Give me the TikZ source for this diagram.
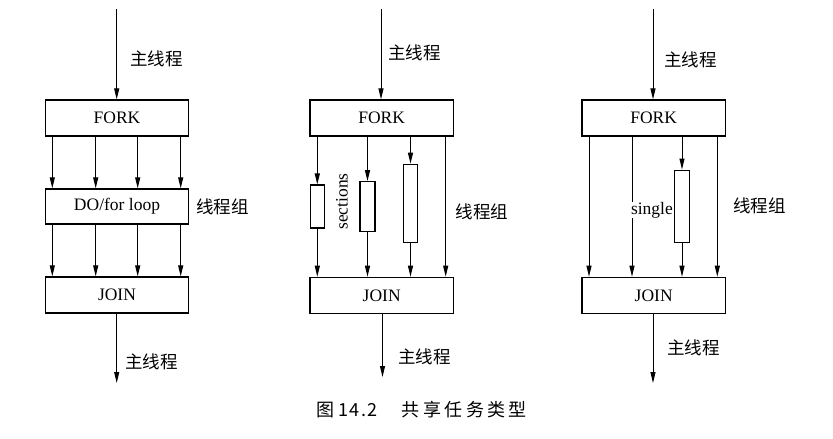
\documentclass[tikz,border=0pt]{standalone}
\usepackage{fontspec}
\setmainfont{Liberation Serif}
\newfontfamily\cjk{Noto Sans CJK SC}
\usetikzlibrary{arrows.meta}
\begin{document}
\begin{tikzpicture}[x=1pt,y=-1pt,
  box/.style={draw, line width=1.2pt, minimum height=36pt, inner sep=0pt, font=\fontsize{17.5}{20}\selectfont},
  sbox/.style={draw, line width=1.1pt, inner sep=0pt},
  flow/.style={line width=1pt, -{Triangle[length=11pt,width=5pt]}},
  lbl/.style={font=\cjk\fontsize{17.5}{20}\selectfont, inner sep=0pt, anchor=west},
  txt/.style={font=\fontsize{17.5}{20}\selectfont, inner sep=0pt},
]
\useasboundingbox (0,0) rectangle (833,439);
\fill[white] (0,0) rectangle (833,439);

% ---------- Panel 1 ----------
\node[box, minimum width=142.6pt] (fork1) at (117,118) {FORK};
\node[box, minimum width=142.6pt, minimum height=35pt] (do1) at (117,206.5) {DO/for loop};
\node[box, minimum width=142.6pt] (join1) at (117,295) {JOIN};
\coordinate (t1) at (116.7,9);
\coordinate (b1) at (116.7,383);
\draw[flow] (t1) -- (t1 |- fork1.north);
\draw[flow] (join1.south -| b1) -- (b1);
\foreach \x [count=\i] in {52.3,95.7,137.7,180.7} {
  \coordinate (p1\i) at (\x,0);
  \draw[flow] (fork1.south -| p1\i) -- (do1.north -| p1\i);
  \draw[flow] (do1.south -| p1\i) -- (join1.north -| p1\i);
}
\node[lbl] (m1a) at (130,58.5) {主线程};
\node[lbl] (m1b) at (125,362) {主线程};
\node[lbl] (g1) at (196,207) {线程组};

% ---------- Panel 2 ----------
\node[box, minimum width=143.3pt] (fork2) at (381.7,118) {FORK};
\node[box, minimum width=143.3pt] (join2) at (381.7,295.3) {JOIN};
\coordinate (t2) at (381,9);
\coordinate (b2) at (382.5,377);
\draw[flow] (t2) -- (t2 |- fork2.north);
\draw[flow] (join2.south -| b2) -- (b2);
\node[sbox, minimum width=14.3pt, minimum height=43pt] (s1) at (317.3,206.5) {};
\node[sbox, minimum width=15pt, minimum height=50pt] (s2) at (367.5,206.7) {};
\node[sbox, minimum width=14.4pt, minimum height=78pt] (s3) at (410.5,203.2) {};
\foreach \n in {s1,s2,s3} {
  \draw[flow] (fork2.south -| \n.north) -- (\n.north);
  \draw[flow] (\n.south) -- (join2.north -| \n.south);
}
\coordinate (p24) at (445.7,0);
\draw[flow] (fork2.south -| p24) -- (join2.north -| p24);
\node[txt, rotate=90] (sec) at (342,201.5) {sections};
\node[lbl] (m2a) at (388,53) {主线程};
\node[lbl] (m2b) at (398,356.7) {主线程};
\node[lbl] (g2) at (455.7,211.7) {线程组};

% ---------- Panel 3 ----------
\node[box, minimum width=143.3pt] (fork3) at (653.7,118) {FORK};
\node[box, minimum width=143.3pt] (join3) at (653.7,295.3) {JOIN};
\coordinate (t3) at (653,9);
\coordinate (b3) at (653,383);
\draw[flow] (t3) -- (t3 |- fork3.north);
\draw[flow] (join3.south -| b3) -- (b3);
\foreach \x [count=\i] in {589,632,717.3} {
  \coordinate (p3\i) at (\x,0);
  \draw[flow] (fork3.south -| p3\i) -- (join3.north -| p3\i);
}
\node[sbox, minimum width=14.6pt, minimum height=72.3pt] (sg) at (682,206.2) {};
\draw[flow] (fork3.south -| sg.north) -- (sg.north);
\draw[flow] (sg.south) -- (join3.north -| sg.south);
\node[txt, fill=white, anchor=east, inner sep=0.5pt] (single) at (673.5,210) {single};
\node[lbl] (m3a) at (664,60) {主线程};
\node[lbl] (m3b) at (667,348.3) {主线程};
\node[lbl] (g3) at (733,206) {线程组};

% ---------- Caption ----------
\node[font=\cjk\fontsize{18}{20}\selectfont, inner sep=0pt, anchor=west] (cap) at (316.7,410)
  {图\hspace{3.6pt}\makebox[39.4pt][s]{1\hfill 4\hfill .\hfill 2}\hspace{24pt}共\hspace{3.4pt}享\hspace{3.4pt}任\hspace{3.4pt}务\hspace{3.4pt}类\hspace{3.4pt}型};
\end{tikzpicture}
\end{document}
